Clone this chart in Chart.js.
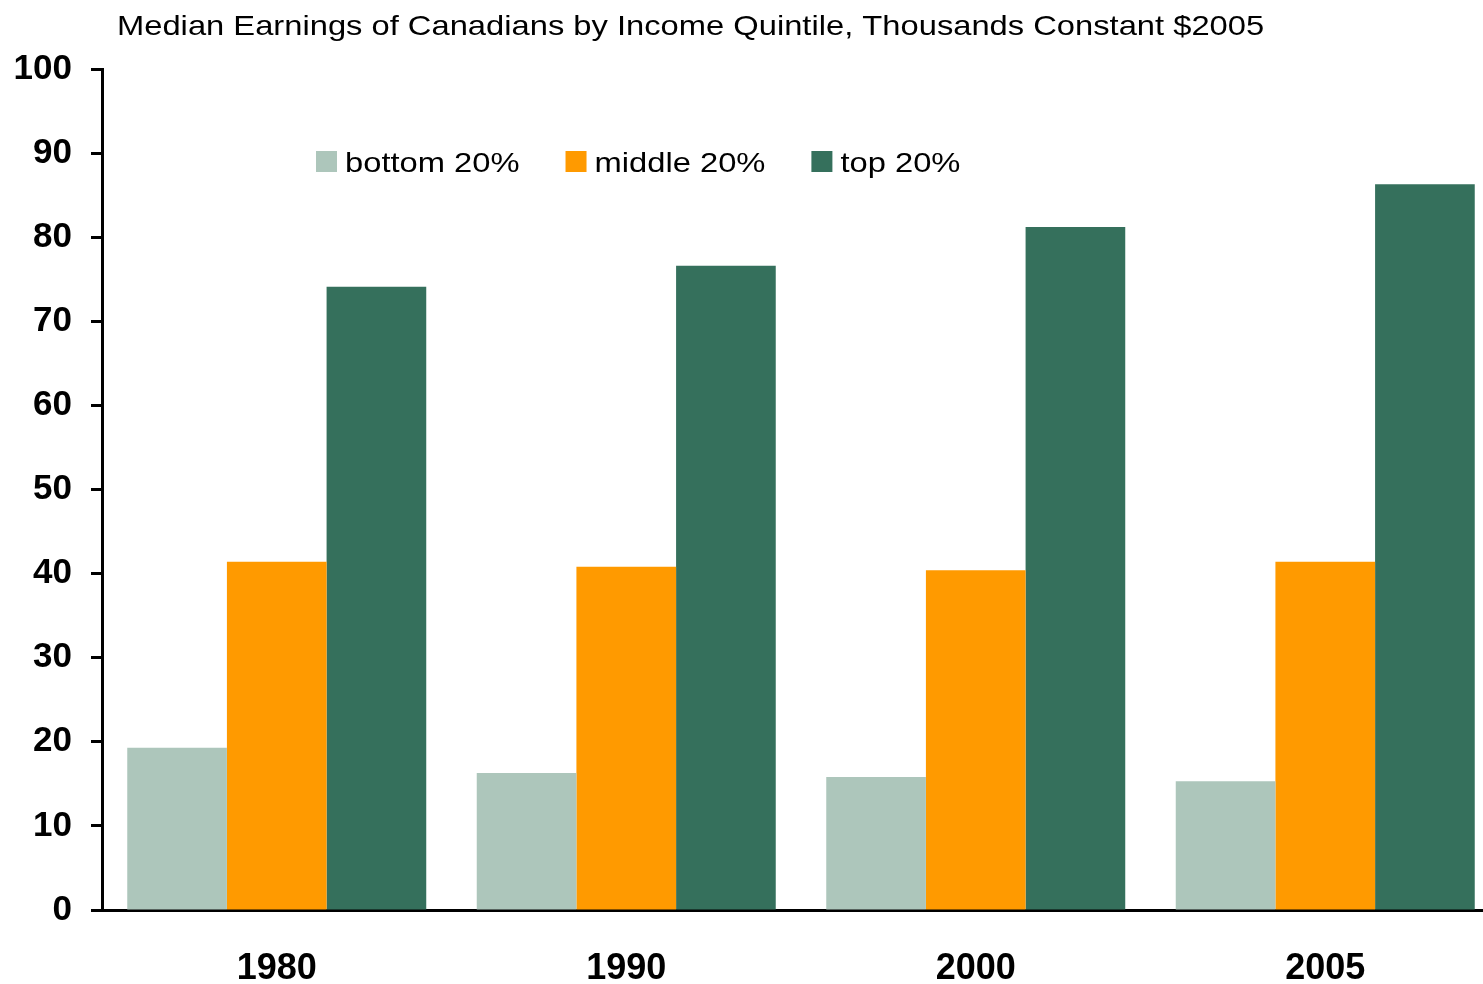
<!DOCTYPE html>
<html>
<head>
<meta charset="utf-8">
<script src="https://cdn.jsdelivr.net/npm/chart.js@4"></script>
<style>
  html, body { margin: 0; padding: 0; background: #fff; overflow: hidden; }
</style>
</head>
<body>
<canvas id="myChart" width="1500" height="984"></canvas>
<script>
const years = ['1980', '1990', '2000', '2005'];
const bottom20 = [19.3, 16.3, 15.8, 15.3];
const middle20 = [41.4, 40.8, 40.4, 41.4];
const top20 = [74.1, 76.6, 81.2, 86.3];
const titleText = 'Median Earnings of Canadians by Income Quintile, Thousands Constant $2005';

const FONT = '"Liberation Sans", Arial, sans-serif';
const STRETCH = 1.168; // the original's text is a bit wider than Arial

function wideText(c, text, x, y) {
    c.save();
    c.translate(x, y);
    c.scale(STRETCH, 1);
    c.fillText(text, 0, 0);
    c.restore();
    return c.measureText(text).width * STRETCH;
}

// title and legend sit at fixed spots, not where chart.js would put them
const overlay = {
    id: 'overlay',
    afterDraw(chart) {
        const c = chart.ctx;
        c.save();
        c.fillStyle = '#000';
        c.font = '28px ' + FONT;
        c.textBaseline = 'alphabetic';
        c.textAlign = 'left';
        wideText(c, titleText, 117, 35);

        let x = 316;
        chart.data.datasets.forEach(ds => {
            c.fillStyle = ds.backgroundColor;
            c.fillRect(x, 151, 21, 21);
            c.fillStyle = '#000';
            const w = wideText(c, ds.label, x + 29, 172);
            x += 29 + w + 46;
        });
        c.restore();
    }
};

const ctx = document.getElementById('myChart');
new Chart(ctx, {
    type: 'bar',
    data: {
        labels: years,
        datasets: [
            { label: 'bottom 20%', data: bottom20, backgroundColor: '#adc6bb' },
            { label: 'middle 20%', data: middle20, backgroundColor: '#ff9a00' },
            { label: 'top 20%', data: top20, backgroundColor: '#35705c' }
        ]
    },
    options: {
        responsive: false,
        animation: false,
        layout: { padding: { top: 69, left: 0, right: 0, bottom: 0 } },
        datasets: {
            bar: { categoryPercentage: 0.8555, barPercentage: 1, borderWidth: 0 }
        },
        plugins: {
            legend: { display: false },
            title: { display: false },
            tooltip: { enabled: false }
        },
        scales: {
            x: {
                grid: { display: false },
                border: { display: true, color: '#000', width: 3 },
                ticks: {
                    color: '#000',
                    padding: 29,
                    font: { family: FONT, size: 36, weight: 'bold' }
                },
                afterFit(scale) { scale.height = 74; }
            },
            y: {
                min: 0,
                max: 100,
                grid: {
                    drawOnChartArea: false,
                    drawTicks: true,
                    tickLength: 11,
                    tickWidth: 3,
                    tickColor: '#000'
                },
                border: { display: true, color: '#000', width: 3 },
                ticks: {
                    stepSize: 10,
                    color: '#000',
                    padding: 19,
                    font: { family: FONT, size: 35, weight: 'bold' }
                },
                afterFit(scale) { scale.width = 102; }
            }
        }
    },
    plugins: [overlay]
});
</script>
</body>
</html>
